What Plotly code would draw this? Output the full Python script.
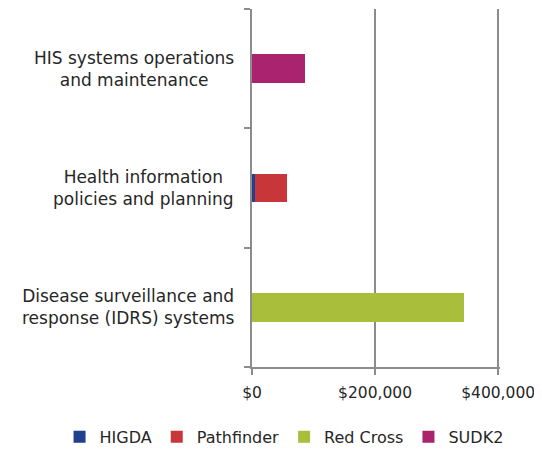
import plotly.graph_objects as go

categories = [
    "Disease surveillance and<br>response (IDRS) systems",
    "Health information<br>policies and planning",
    "HIS systems operations<br>and maintenance",
]
series_names = ["HIGDA", "Pathfinder", "Red Cross", "SUDK2"]
higda = [0, 5000, 0]
pathfinder = [0, 52000, 0]
red_cross = [345000, 0, 0]
sudk2 = [0, 0, 86000]
colors = ["#213F8F", "#C9363A", "#A9BE3B", "#A9236F"]
x_ticks = [0, 200000, 400000]
x_tick_labels = ["$0", "$200,000", "$400,000"]

FONT = "DejaVu Sans"
TXT = "#262626"
fig = go.Figure()
for name, vals, col in zip(series_names, [higda, pathfinder, red_cross, sudk2], colors):
    fig.add_trace(go.Bar(
        y=list(range(len(categories))), x=vals, name=name, orientation="h",
        marker=dict(color=col, line=dict(width=0)),
    ))

for i, cat in enumerate(categories):
    fig.add_annotation(
        x=0, xref="paper", y=i, yref="y", text=cat, showarrow=False,
        xanchor="right", yanchor="middle", align="center", xshift=-16,
        font=dict(family=FONT, size=17, color=TXT),
    )

fig.update_layout(
    width=534, height=442,
    margin=dict(l=244, r=42, t=1, b=83, autoexpand=False),
    barmode="stack", bargap=0.76,
    plot_bgcolor="white", paper_bgcolor="white",
    font=dict(family=FONT, size=15, color=TXT),
    showlegend=True,
    legend=dict(orientation="h", x=-0.776, xanchor="left", y=-0.195, yanchor="middle",
                font=dict(family=FONT, size=16, color=TXT), traceorder="normal",
                itemwidth=30),
    xaxis=dict(range=[0, 403000], tickvals=x_ticks, ticktext=x_tick_labels,
               showgrid=True, gridcolor="#8C8C8C", gridwidth=2,
               showline=True, linecolor="#8C8C8C", linewidth=2,
               ticks="outside", ticklen=6, tickcolor="#8C8C8C", tickwidth=2,
               tickfont=dict(family=FONT, size=15.5, color=TXT), ticklabelstandoff=4,
               zeroline=False, fixedrange=True, automargin=False),
    yaxis=dict(range=[-0.5, 2.5], tickvals=[-0.5, 0.5, 1.5, 2.5], ticktext=["", "", "", ""],
               showgrid=False, showline=True, linecolor="#8C8C8C", linewidth=2,
               ticks="outside", ticklen=6, tickcolor="#8C8C8C", tickwidth=2,
               zeroline=False, fixedrange=True, automargin=False),
)

fig.write_html("out.html")
